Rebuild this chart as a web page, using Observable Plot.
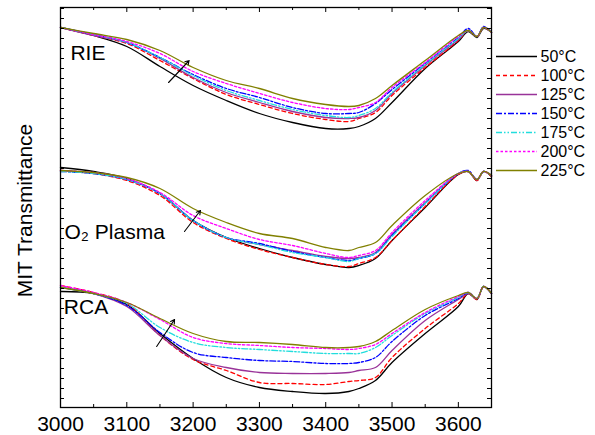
<!DOCTYPE html>
<html><head><meta charset="utf-8">
<script src="https://cdn.jsdelivr.net/npm/d3@7"></script>
<script src="https://cdn.jsdelivr.net/npm/@observablehq/plot@0.6"></script>
<style>
body{margin:0;background:#fff}
#chart{position:relative;width:595px;height:435px;font-family:"Liberation Sans",Arial,Helvetica,sans-serif}
#legend{position:absolute;left:494px;top:30px}
</style>
</head><body><div id="chart"></div>
<script>
// wavenumber samples (cm-1)
const wavenumbers = [3000,3050,3100,3150,3200,3250,3300,3350,3400,3435,3450,3475,3500,3550,3600,3615,3628,3638,3650];

// RIE (arbitrary transmittance units, offset stacked)
const rie50  = [380,372,361,341,322,307,294,285,279,279,281,289,305,339,366,376,370,379,375];
const rie100 = [380,372,364,347,329,313,303,294,288,286,289,295,312,340,367,377,371,380,375];
const rie125 = [380,372,365,349,330,315,305,296,290,289,290,297,314,342,368,377,371,380,375];
const rie150 = [380,373,365,350,333,319,310,300,294,294,295,304,318,344,370,379,371,381,375];
const rie175 = [380,373,365,350,332,317,307,298,292,290,292,299,315,343,369,377,371,380,375];
const rie200 = [380,373,366,354,336,324,314,305,299,298,300,305,320,345,371,377,371,380,375];
const rie225 = [380,374,368,357,340,327,319,309,303,301,302,309,322,347,372,377,371,380,375];

// O2 plasma
const o250  = [240,236,229,214,187,170,159,150,143,140,142,149,167,200,233,236,227,236,231];
const o2100 = [237,234,227,212,185,169,158,150,143,141,144,150,167,201,233,236,227,236,231];
const o2125 = [237,234,228,214,187,170,163,157,151,149,150,155,173,205,234,236,228,236,232];
const o2150 = [236,234,228,214,187,170,164,156,150,147,149,154,172,204,234,237,228,236,232];
const o2175 = [236,234,228,214,187,170,163,155,150,146,149,154,171,204,234,236,228,236,232];
const o2200 = [237,235,229,215,192,179,168,162,154,150,152,157,175,207,234,236,228,236,232];
const o2225 = [237,235,230,219,199,185,174,169,160,157,160,165,182,212,234,236,228,236,232];

// RCA
const rca50  = [116,114,103,74,49,30,20,16,14,16,19,27,45,74,101,114,108,121,114];
const rca100 = [122,115,104,72,48,37,25,24,23,26,27,30,50,79,104,114,108,121,114];
const rca125 = [120,114,101,72,49,40,35,34,34,35,37,40,57,87,108,114,109,121,114];
const rca150 = [120,114,102,75,55,50,47,46,44,44,45,50,66,92,109,115,109,121,114];
const rca175 = [120,114,104,80,65,60,58,56,54,54,54,60,72,94,110,115,109,121,114];
const rca200 = [122,115,105,88,70,64,62,60,59,58,59,63,74,95,111,115,109,121,114];
const rca225 = [120,114,105,89,74,66,65,63,60,60,61,66,77,98,112,115,109,121,114];

const temps  = ["50°C","100°C","125°C","150°C","175°C","200°C","225°C"];
const colors = ["#000000","#ff0000","#993399","#0000ff","#22dddd","#ff00ff","#808000"];
const dashes = [null,"4,3",null,"6,2,2,2","6,2,1.5,2,1.5,2","2.5,2",null];

const panelNames  = ["RIE","O2","RCA"];
const panelLabels = ["RIE","O₂ Plasma","RCA"];
const labelX = [3015,3006,3005];
const labelY = [354,175,100];

const arrowX1 = [3163,3187,3145];
const arrowY1 = [325,176,61];
const arrowX2 = [3194,3211,3172];
const arrowY2 = [347,197,88];

const xMajor = [3000,3100,3200,3300,3400,3500,3600];
const xMinor = [3050,3150,3250,3350,3450,3550,3650];
const yTicks = d3.range(9, 400, 10);
const yTitle = "MIT Transmittance";

const panelSeries = [
  [rie50,rie100,rie125,rie150,rie175,rie200,rie225],
  [o250,o2100,o2125,o2150,o2175,o2200,o2225],
  [rca50,rca100,rca125,rca150,rca175,rca200,rca225]
];
const rows = [];
panelSeries.forEach((arrs, pi) => arrs.forEach((arr, si) => arr.forEach((v, i) =>
  rows.push({panel: panelNames[pi], temp: temps[si], x: wavenumbers[i], y: v}))));

const font = '"Liberation Sans",Arial,Helvetica,sans-serif';

const chart = Plot.plot({
  width: 595, height: 435,
  marginLeft: 60, marginRight: 104, marginTop: 7, marginBottom: 28,
  style: {fontFamily: font, fontSize: "21px", color: "black", background: "white"},
  x: {domain: [3000, 3650], label: null},
  y: {domain: [0, 400], axis: null, label: null},
  marks: [
    ...temps.map((t, si) => Plot.line(rows.filter(d => d.temp === t), {
      x: "x", y: "y", z: "panel", stroke: colors[si], strokeDasharray: dashes[si],
      strokeWidth: 1.3, curve: "catmull-rom"
    })),
    Plot.arrow(arrowX1, {x1: arrowX1, y1: arrowY1, x2: arrowX2, y2: arrowY2, stroke: "black", strokeWidth: 1.1, headLength: 6}),
    Plot.text(panelLabels, {x: labelX, y: labelY, text: d => d, textAnchor: "start", fontSize: 21, fill: "black"}),
    Plot.ruleX(xMajor, {insetTop: 395, stroke: "black"}),
    Plot.ruleX(xMinor, {insetTop: 397, stroke: "black"}),
    Plot.ruleX(xMajor, {insetBottom: 395, stroke: "black"}),
    Plot.ruleX(xMinor, {insetBottom: 397, stroke: "black"}),
    Plot.ruleY(yTicks, {insetRight: 427, stroke: "black"}),
    Plot.ruleY(yTicks, {insetLeft: 427, stroke: "black"}),
    Plot.frame({stroke: "black", strokeWidth: 1.3}),
    Plot.axisX(xMajor, {anchor: "bottom", tickSize: 0, tickPadding: 9, fontSize: 21, label: null, fill: "black", tickFormat: d => String(d)}),
    Plot.text([yTitle], {x: 3000, y: 197, rotate: -90, dx: -35, textAnchor: "middle", fontSize: 21, fill: "black"})
  ]
});

const legend = Plot.plot({
  width: 101, height: 170, margin: 0,
  style: {fontFamily: font, background: "transparent"},
  x: {domain: [0, 101], range: [0, 101], axis: null},
  y: {type: "point", domain: temps, range: [15, 150], axis: null},
  marks: [
    ...temps.map((t, si) => Plot.ruleY([t], {x1: 2, x2: 43, stroke: colors[si], strokeDasharray: dashes[si], strokeWidth: 1.3})),
    Plot.text(temps, {x: 46, y: d => d, text: d => d, textAnchor: "start", fontSize: 16, fill: "black"})
  ]
});
legend.id = "legend";

const host = document.getElementById("chart");
host.appendChild(chart);
host.appendChild(legend);
</script></body></html>
